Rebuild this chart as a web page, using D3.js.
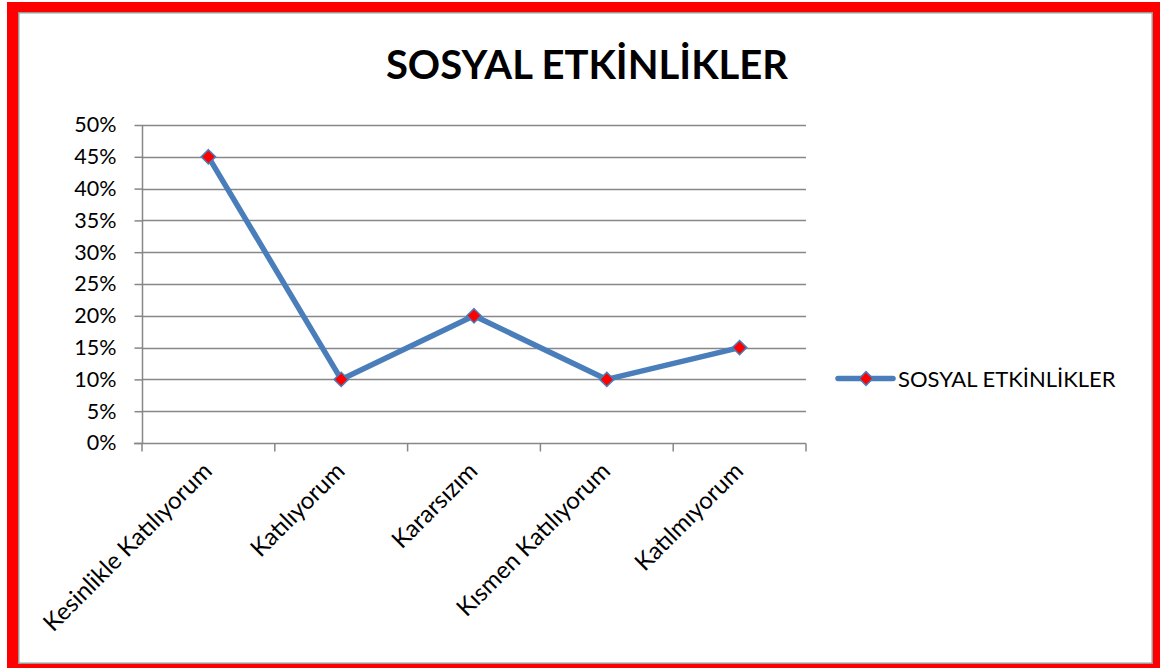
<!DOCTYPE html>
<html><head><meta charset="utf-8">
<script src="https://cdn.jsdelivr.net/npm/d3@7"></script>
<style>html,body{margin:0;padding:0;background:#fff;}svg{display:block;}</style>
</head><body>
<script>
const title = "SOSYAL ETKİNLİKLER";
const seriesName = "SOSYAL ETKİNLİKLER";
const categories = ["Kesinlikle Katılıyorum","Katılıyorum","Kararsızım","Kısmen Katılıyorum","Katılmıyorum"];
const values = [0.45, 0.10, 0.20, 0.10, 0.15];
const yTicks = [0,0.05,0.10,0.15,0.20,0.25,0.30,0.35,0.40,0.45,0.50];

const W=1160,H=668;
const font="Lato, 'Open Sans', sans-serif";
const svg=d3.select("body").append("svg").attr("width",W).attr("height",H);
svg.append("rect").attr("x",0).attr("y",0).attr("width",W).attr("height",H).attr("fill","#fff");
// red frame (outer edge at 7,2; runs past the right/bottom edges)
svg.append("rect").attr("x",7).attr("y",2).attr("width",W).attr("height",H)
  .attr("fill","#ff0000");
svg.append("rect").attr("x",18).attr("y",12).attr("width",1153-18).attr("height",664-12)
  .attr("fill","#9a9a9a");
svg.append("rect").attr("x",19.5).attr("y",13.5).attr("width",1151.5-19.5).attr("height",662.5-13.5)
  .attr("fill","#fff");

const x=d3.scaleBand().domain(categories).range([142,806]);
const y=d3.scaleLinear().domain([0,0.5]).range([443,125]);
const grid="#878787";

svg.append("text").attr("x",587).attr("y",79).attr("text-anchor","middle")
  .attr("font-family",font).attr("font-weight","bold").attr("font-size",40).text(title);

// gridlines
svg.append("g").selectAll("line").data(yTicks.filter(d=>d>0)).join("line")
  .attr("x1",142).attr("x2",806).attr("y1",d=>Math.round(y(d))+0.5).attr("y2",d=>Math.round(y(d))+0.5)
  .attr("stroke",grid).attr("stroke-width",1.5);

// y axis
const ya=svg.append("g").attr("transform","translate(142.5,0)")
  .call(d3.axisLeft(y).tickValues(yTicks).tickFormat(d3.format(".0%")).tickSize(8).tickPadding(18));
ya.select(".domain").attr("stroke",grid).attr("stroke-width",1.5).attr("d","M0,"+y(0.5)+"V"+(y(0)+0));
ya.selectAll(".tick line").attr("stroke",grid).attr("stroke-width",1.5);
ya.selectAll("text").attr("font-family",font).attr("font-size",21.5).attr("fill","#000");

// x axis
const xa=svg.append("g").attr("transform","translate(0,"+(Math.round(y(0))+0.5)+")");
xa.append("line").attr("x1",134).attr("x2",806).attr("stroke",grid).attr("stroke-width",1.5);
const edges=categories.map(c=>x(c)).concat([x(categories[categories.length-1])+x.bandwidth()]);
xa.selectAll(".xt").data(edges).join("line").attr("class","xt")
  .attr("x1",d=>d).attr("x2",d=>d).attr("y1",0).attr("y2",8).attr("stroke",grid).attr("stroke-width",1.5);
xa.selectAll(".xl").data(categories).join("text").attr("class","xl")
  .attr("transform",d=>"translate("+(x(d)+x.bandwidth()/2+5)+",29) rotate(-45)")
  .attr("text-anchor","end").attr("font-family",font).attr("font-size",24).text(d=>d);

// line
const cx=d=>x(d)+x.bandwidth()/2;
const line=d3.line().x((d,i)=>cx(categories[i])).y(d=>y(d));
svg.append("path").datum(values).attr("d",line).attr("fill","none")
  .attr("stroke","#4a7ebb").attr("stroke-width",5.5).attr("stroke-linejoin","round");
const diamond=d3.symbol().type(d3.symbolDiamond2).size(130);
svg.append("g").selectAll("path").data(values).join("path")
  .attr("transform",(d,i)=>"translate("+cx(categories[i])+","+y(d)+")")
  .attr("d",diamond).attr("fill","#ff0000").attr("stroke","#4a7ebb").attr("stroke-width",1.5);

// legend
const lg=svg.append("g").attr("transform","translate(838,378.5)");
lg.append("line").attr("x1",0).attr("x2",55).attr("stroke","#4a7ebb").attr("stroke-width",5.5).attr("stroke-linecap","round");
lg.append("path").attr("transform","translate(28,0)").attr("d",d3.symbol().type(d3.symbolDiamond2).size(120))
  .attr("fill","#ff0000").attr("stroke","#4a7ebb").attr("stroke-width",1.5);
lg.append("text").attr("x",60).attr("y",8.5).attr("font-family",font).attr("font-size",22).text(seriesName);
</script>
</body></html>
